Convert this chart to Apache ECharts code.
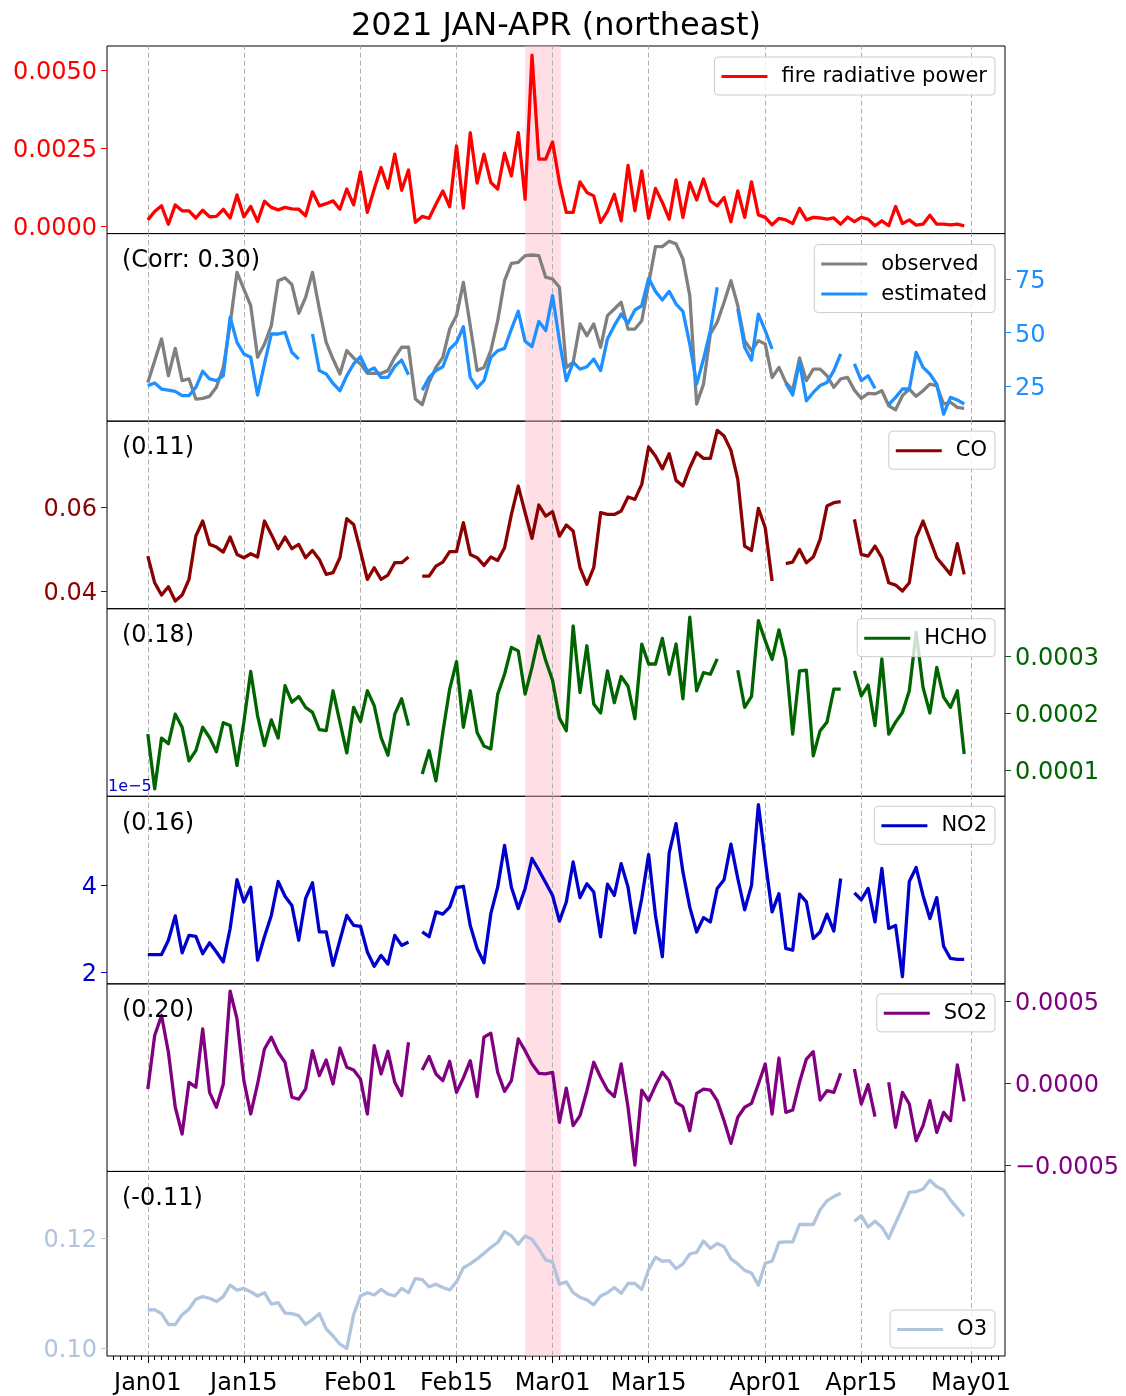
<!DOCTYPE html>
<html>
<head>
<meta charset="utf-8">
<script src="https://cdn.jsdelivr.net/npm/echarts@6/dist/echarts.min.js"></script>
<style>
  html, body { margin: 0; padding: 0; background: #ffffff; }
  #chart { width: 1126px; height: 1396px; }
</style>
</head>
<body>
<div id="chart"></div>
<script>
// Daily series, 2021-01-01 .. 2021-04-30 (index = days since Jan 1). null = no data.
const START = Date.UTC(2021, 0, 1);
const N_DAYS = 120;
const dates = [];
for (let i = 0; i < N_DAYS; i++) {
  const d = new Date(START + i * 86400000);
  dates.push(d.toISOString().slice(0, 10));
}

// Fire radiative power (x 1e-3)
const frp = [
  0.19,0.46,0.64,0.05,0.67,0.48,0.48,0.25,0.50,0.29,
  0.30,0.53,0.25,0.99,0.29,0.62,0.14,0.79,0.59,0.51,
  0.59,0.54,0.53,0.32,1.09,0.64,0.71,0.80,0.53,1.18,
  0.67,1.73,0.43,1.18,1.87,1.21,2.30,1.14,1.79,0.11,
  0.30,0.24,0.69,1.12,0.61,2.56,0.57,2.99,1.37,2.30,
  1.39,1.18,2.33,1.60,2.99,0.85,5.48,2.14,2.14,2.69,
  1.39,0.43,0.43,1.41,1.07,0.96,0.11,0.46,1.01,0.16,
  1.94,0.48,1.76,0.24,1.20,0.75,0.21,1.47,0.27,1.39,
  0.83,1.50,0.80,0.64,0.91,0.13,1.12,0.27,1.41,0.35,
  0.27,0.03,0.24,0.19,0.07,0.56,0.19,0.27,0.25,0.21,
  0.25,0.05,0.28,0.13,0.27,0.21,0.00,0.16,0.00,0.62,
  0.07,0.19,0.02,0.05,0.34,0.05,0.05,0.03,0.05,0.00
];

// PM2.5 observed / estimated
const observed = [
  26.7,36.8,47.0,29.8,42.6,27.5,28.3,18.9,19.2,20.2,
  24.4,33.7,54.0,78.1,70.3,62.5,38.4,44.6,53.2,74.2,
  75.5,72.4,59.0,66.4,78.1,61.0,45.4,37.6,30.6,41.5,
  38.1,35.3,30.9,30.9,30.9,32.2,38.4,43.1,43.1,18.9,
  16.3,26.7,33.7,38.4,51.6,57.9,73.4,53.2,32.2,33.7,
  41.5,55.5,74.2,82.3,82.8,85.9,86.2,85.9,75.8,75.0,
  71.1,33.7,36.1,54.0,48.5,54.0,43.1,57.9,61.0,64.1,
  51.6,51.6,55.5,72.7,90.1,90.1,92.6,91.4,84.3,67.2,
  16.6,25.9,49.3,54.8,64.1,74.2,62.5,46.2,41.5,46.2,
  44.6,29.0,33.7,26.7,23.1,38.1,27.5,32.9,32.9,29.8,
  24.4,28.3,29.0,23.1,19.2,21.6,21.3,22.8,15.8,13.9,
  20.5,23.6,20.2,22.8,25.9,25.2,16.6,17.4,15.0,14.6
];
const estimated = [
  25.2,26.4,23.6,23.1,22.5,20.5,20.5,24.4,31.9,28.3,
  27.5,29.8,57.1,45.4,40.0,38.4,20.8,35.3,49.3,49.3,
  50.1,40.7,37.6,null,49.3,32.2,30.6,26.2,22.8,29.8,
  35.3,38.7,31.9,33.4,29.0,29.0,34.2,37.1,30.3,null,
  23.1,29.0,32.2,34.0,42.3,45.4,52.7,29.0,24.1,27.5,
  38.4,41.5,42.6,51.6,59.9,45.9,43.4,55.2,50.9,67.2,
  46.2,27.5,36.1,32.9,34.0,37.6,32.2,47.0,53.2,58.6,
  54.3,60.5,62.5,75.3,69.2,65.2,69.2,63.3,59.9,44.6,
  25.9,37.6,50.9,71.1,null,null,61.0,43.1,37.1,58.6,
  50.9,42.3,null,26.2,20.8,36.1,18.1,22.0,25.2,26.7,
  32.2,40.0,null,35.3,27.5,29.8,23.9,null,16.3,19.7,
  23.6,23.6,40.7,33.7,30.6,25.9,11.9,19.7,18.5,16.6
];

// CO (x 1e-3)
const co = [
  48.33,41.98,39.05,41.03,37.62,39.05,42.78,53.10,56.67,51.11,
  50.48,49.29,52.86,48.73,47.94,48.89,48.10,56.67,53.49,50.08,
  52.86,50.08,51.11,47.94,49.68,47.54,43.97,44.37,47.94,57.22,
  55.87,49.52,42.78,45.56,42.78,43.81,46.75,46.75,48.10,null,
  43.57,43.57,45.95,46.90,49.37,49.37,56.27,48.73,47.94,46.11,
  48.10,47.30,50.32,58.25,65.00,58.65,52.54,60.48,57.86,58.89,
  53.10,55.71,54.29,45.56,41.59,45.56,58.65,58.25,58.25,59.05,
  62.38,61.83,65.40,74.29,72.14,69.13,72.70,66.35,65.00,69.37,
  72.94,71.59,71.59,78.26,76.91,73.49,66.59,50.71,49.68,59.68,
  55.08,42.38,null,46.51,46.90,49.92,46.75,48.10,52.30,60.24,
  61.03,61.27,null,57.06,48.73,48.33,50.71,47.94,41.98,41.43,
  40.00,41.98,52.70,56.67,52.30,47.94,45.95,43.97,51.27,43.97
];

// HCHO (x 1e-4)
const hcho = [
  1.63,0.67,1.56,1.46,1.98,1.75,1.16,1.34,1.75,1.57,
  1.32,1.83,1.78,1.08,1.84,2.73,1.95,1.43,1.88,1.56,
  2.48,2.19,2.29,2.10,2.01,1.71,1.69,2.39,1.84,1.30,
  2.10,1.85,2.39,2.13,1.57,1.26,1.98,2.25,1.78,null,
  0.93,1.34,0.81,1.66,2.42,2.90,1.75,2.39,1.66,1.42,
  1.37,2.33,2.68,3.15,3.09,2.33,2.80,3.35,2.92,2.57,
  1.91,1.69,3.53,2.36,3.18,2.16,2.00,2.74,2.18,2.64,
  2.47,1.90,3.21,2.86,2.86,3.31,2.68,3.21,2.25,3.68,
  2.39,2.71,2.68,2.95,null,null,2.75,2.10,2.29,3.62,
  3.27,2.94,3.46,2.95,1.63,2.74,2.75,1.25,1.69,1.84,
  2.42,2.42,null,2.74,2.30,2.49,1.78,2.95,1.63,1.84,
  2.01,2.39,3.42,2.45,2.00,2.80,2.28,2.10,2.39,1.28
];

// NO2 (x 1e-5)
const no2 = [
  2.40,2.40,2.40,2.73,3.29,2.44,2.84,2.82,2.42,2.67,
  2.46,2.23,3.00,4.12,3.61,3.95,2.27,2.81,3.30,4.08,
  3.74,3.53,2.73,3.69,4.05,2.92,2.92,2.15,2.73,3.30,
  3.07,3.05,2.46,2.13,2.38,2.18,2.84,2.61,2.69,null,
  2.92,2.81,3.38,3.33,3.49,3.94,3.97,3.07,2.54,2.21,
  3.34,3.95,4.91,3.95,3.46,3.92,4.61,4.34,4.05,3.76,
  3.17,3.61,4.53,3.71,4.03,3.84,2.81,4.02,3.76,4.49,
  3.95,2.90,3.69,4.70,3.30,2.35,4.74,5.41,4.30,3.49,
  2.92,3.25,3.15,3.92,4.12,4.94,4.15,3.43,3.99,5.85,
  4.57,3.38,3.80,2.54,2.50,3.79,3.61,2.77,2.92,3.33,
  2.94,4.15,null,3.82,3.66,3.92,3.15,4.38,3.00,3.07,
  1.89,4.08,4.40,3.76,3.23,3.71,2.59,2.31,2.29,2.29
];

// SO2 (x 1e-4)
const so2 = [
  -0.37,2.89,4.11,1.87,-1.48,-3.11,0.04,-0.26,3.29,-0.57,
  -1.48,-0.06,5.59,3.90,0.14,-1.89,-0.06,2.07,2.79,1.87,
  1.26,-0.87,-0.98,-0.37,1.97,0.45,1.40,-0.06,2.13,0.96,
  0.79,0.24,-1.89,2.28,0.55,1.93,0.04,-0.77,2.48,null,
  0.79,1.61,0.55,0.14,1.32,-0.57,0.31,1.36,-0.83,2.79,
  3.03,0.65,-0.51,0.14,2.68,1.97,1.16,0.59,0.55,0.65,
  -2.40,-0.31,-2.60,-1.99,-0.47,1.26,0.35,-0.43,-0.83,1.16,
  -1.48,-5.00,-0.43,-1.08,-0.16,0.65,0.14,-1.18,-1.44,-2.91,
  -0.63,-0.37,-0.43,-1.08,-2.30,-3.68,-2.09,-1.48,-1.24,-0.06,
  1.16,-1.89,1.52,-1.79,-1.65,0.04,1.46,1.91,-1.04,-0.47,
  -0.57,0.59,null,0.85,-1.28,-0.10,-2.05,null,0.04,-2.70,
  -0.57,-1.28,-3.52,-2.60,-1.08,-3.01,-1.79,-2.30,1.10,-1.12
];

// O3 (x 1e-3)
const o3 = [
  106.96,106.96,106.25,104.29,104.29,106.07,107.08,108.87,109.35,109.05,
  108.45,109.35,111.43,110.54,110.83,110.24,109.46,110.06,107.98,108.27,
  106.37,106.25,105.89,104.29,105.18,106.25,103.51,102.20,100.71,99.94,
  106.07,109.46,110.06,109.64,110.65,109.82,109.46,110.83,110.06,112.62,
  112.44,111.13,111.61,111.01,110.54,112.02,114.58,115.30,116.19,117.20,
  118.27,119.17,121.13,120.36,118.87,120.36,119.76,117.98,116.01,115.60,
  111.61,112.02,110.06,109.23,108.75,107.86,109.46,110.06,111.01,109.94,
  111.73,111.73,110.65,114.23,116.49,115.77,115.89,114.40,115.30,117.08,
  117.38,119.46,118.10,118.99,118.39,116.19,115.30,114.11,113.63,111.43,
  115.42,115.77,119.17,119.29,119.29,122.44,122.44,122.44,125.12,126.73,
  127.50,128.10,null,123.04,124.05,121.96,123.04,121.96,119.94,122.74,
  125.42,128.27,128.39,128.87,130.48,129.29,128.69,126.90,125.42,123.93
];

// Date ticks (days since Jan 1) and their labels
const tickDays = [0, 14, 31, 45, 59, 73, 90, 104, 120];
const tickLabels = ['Jan01', 'Jan15', 'Feb01', 'Feb15', 'Mar01', 'Mar15', 'Apr01', 'Apr15', 'May01'];

// Highlighted fire-peak window (days since Jan 1)
const highlightSpan = [55.0, 60.2];

// Correlation notes per panel
const corrNotes = ['', '(Corr: 0.30)', '(0.11)', '(0.18)', '(0.16)', '(0.20)', '(-0.11)'];

// ---------------------------------------------------------------------------
const FONT = 'DejaVu Sans';
const W = 1126;
const PLOT_L = 107, PLOT_R = 1005, PLOT_T = 46, PLOT_B = 1359;
const PANEL_H = (PLOT_B - PLOT_T) / 7;
const X_MIN = -5.95, X_MAX = 124.95;
const LINE_W = 3.3;

const toPairs = arr => arr.map((v, i) => [i, v === null ? '-' : v]);

const panels = [
  { lines: [{ name: 'fire radiative power', data: frp, color: '#ff0000' }],
    side: 'left', axisColor: '#ff0000', range: [-0.25, 5.77], ticks: [0, 2.5, 5],
    fmt: v => (v / 1e3).toFixed(4), legendTop: 11 },
  { lines: [{ name: 'observed', data: observed, color: '#808080' },
            { name: 'estimated', data: estimated, color: '#1e90ff' }],
    side: 'right', axisColor: '#1e90ff', range: [8.6, 96.2], ticks: [25, 50, 75],
    fmt: v => String(v), legendTop: 11 },
  { lines: [{ name: 'CO', data: co, color: '#8b0000' }],
    side: 'left', axisColor: '#8b0000', range: [35.8, 80.45], ticks: [40, 60],
    fmt: v => (v / 1e3).toFixed(2), legendTop: 10 },
  { lines: [{ name: 'HCHO', data: hcho, color: '#006400' }],
    side: 'right', axisColor: '#006400', range: [0.539, 3.83], ticks: [1, 2, 3],
    fmt: v => (v / 1e4).toFixed(4), legendTop: 10 },
  { lines: [{ name: 'NO2', data: no2, color: '#0000cd' }],
    side: 'left', axisColor: '#0000cd', range: [1.726, 6.04], ticks: [2, 4],
    fmt: v => String(v), legendTop: 10 },
  { lines: [{ name: 'SO2', data: so2, color: '#800080' }],
    side: 'right', axisColor: '#800080', range: [-5.39, 6.04], ticks: [-5, 0, 5],
    fmt: v => (v / 1e4).toFixed(4).replace('-', '\u2212'), legendTop: 10 },
  { lines: [{ name: 'O3', data: o3, color: '#b0c4de' }],
    side: 'left', axisColor: '#b0c4de', range: [98.57, 132.07], ticks: [100, 120],
    fmt: v => (v / 1e3).toFixed(2), legendBottomGap: 11 }
];

const grid = [], xAxis = [], yAxis = [], series = [], legend = [], graphic = [];

panels.forEach((p, k) => {
  const top = PLOT_T + k * PANEL_H;
  const isLast = k === panels.length - 1;
  grid.push({
    left: PLOT_L, right: W - PLOT_R, top: top, height: PANEL_H,
    show: true, borderColor: '#000000', borderWidth: 1, backgroundColor: 'transparent'
  });

  xAxis.push({
    type: 'value', gridIndex: k, min: X_MIN, max: X_MAX, position: 'bottom',
    axisLine: { show: false, onZero: false }, splitLine: { show: false },
    axisTick: isLast
      ? { show: true, customValues: tickDays, length: 7, lineStyle: { color: '#000', width: 1 } }
      : { show: false },
    axisLabel: isLast
      ? { show: true, customValues: tickDays, margin: 10, fontSize: 24, fontFamily: FONT, color: '#000',
          padding: [6, 0, 0, 0],
          formatter: v => tickLabels[tickDays.indexOf(Math.round(v))] || '' }
      : { show: false }
  });

  yAxis.push({
    type: 'value', gridIndex: k, position: p.side, min: p.range[0], max: p.range[1],
    axisLine: { show: false, onZero: false }, splitLine: { show: false },
    axisTick: { show: true, customValues: p.ticks, length: 6, lineStyle: { color: p.axisColor, width: 1 } },
    axisLabel: {
      show: true, customValues: p.ticks, margin: 10,
      formatter: v => '{t|' + p.fmt(v) + '}',
      rich: { t: { fontSize: 24, fontFamily: FONT, color: p.axisColor, padding: [6, 0, 0, 0] } }
    }
  });

  // Gridlines at date ticks plus the highlighted window, beneath the data lines
  series.push({
    name: 'frame-' + k, type: 'line', xAxisIndex: k, yAxisIndex: k, data: [], z: 1, silent: true,
    markLine: {
      z: 1, silent: true, symbol: ['none', 'none'], label: { show: false }, animation: false,
      lineStyle: { color: '#b0b0b0', type: [5, 3], width: 1 },
      data: tickDays.map(d => ({ xAxis: d }))
    },
    markArea: {
      z: 0, silent: true, itemStyle: { color: 'rgba(255,192,203,0.5)' },
      data: [[{ xAxis: highlightSpan[0] }, { xAxis: highlightSpan[1] }]]
    }
  });

  p.lines.forEach(l => {
    series.push({
      name: l.name, type: 'line', xAxisIndex: k, yAxisIndex: k, data: toPairs(l.data),
      showSymbol: false, symbol: 'none', connectNulls: false, z: 3,
      color: l.color, itemStyle: { color: l.color },
      lineStyle: { color: l.color, width: LINE_W, join: 'round', cap: 'butt' }
    });
  });

  const lg = {
    data: p.lines.map(l => l.name), orient: 'vertical', right: W - 995,
    icon: 'rect', itemWidth: 46, itemHeight: 3, itemGap: 9,
    padding: [9, 8, 8, 7], selectedMode: false, z: 10,
    backgroundColor: 'rgba(255,255,255,0.8)', borderColor: '#cccccc', borderWidth: 1, borderRadius: 4,
    textStyle: { fontSize: 21, fontFamily: FONT, color: '#000', padding: [2, 0, 0, 9] }
  };
  if (p.legendBottomGap !== undefined) lg.top = top + PANEL_H - p.legendBottomGap - 38;
  else lg.top = top + p.legendTop;
  legend.push(lg);

  if (corrNotes[k]) {
    graphic.push({
      type: 'text', z: 50,
      style: { text: corrNotes[k], x: 122, y: top + 27, fontSize: 24, fontFamily: FONT,
               fill: '#000', verticalAlign: 'middle', align: 'left' }
    });
  }
});

// Daily minor ticks on the bottom axis
xAxis.push({
  type: 'value', gridIndex: panels.length - 1, min: X_MIN, max: X_MAX, position: 'bottom',
  axisLine: { show: false, onZero: false }, splitLine: { show: false }, axisLabel: { show: false },
  axisTick: { show: true, customValues: Array.from({ length: 130 }, (_, i) => i - 5),
              length: 4, lineStyle: { color: '#000', width: 1 } }
});

// Scale note for the NO2 axis
graphic.push({
  type: 'text', z: 50,
  style: { text: '1e\u22125', x: 108, y: PLOT_T + 4 * PANEL_H - 9, fontSize: 16, fontFamily: FONT,
           fill: '#0000cd', verticalAlign: 'middle', align: 'left' }
});

const chart = echarts.init(document.getElementById('chart'), null, { renderer: 'canvas' });
chart.setOption({
  animation: false,
  backgroundColor: '#ffffff',
  textStyle: { fontFamily: FONT },
  title: {
    text: '2021 JAN-APR (northeast)', left: (PLOT_L + PLOT_R) / 2, top: 11, textAlign: 'center', padding: 0,
    textStyle: { fontSize: 32, fontWeight: 'normal', fontFamily: FONT, color: '#000' }
  },
  grid, xAxis, yAxis, series, legend, graphic
});
</script>
</body>
</html>
